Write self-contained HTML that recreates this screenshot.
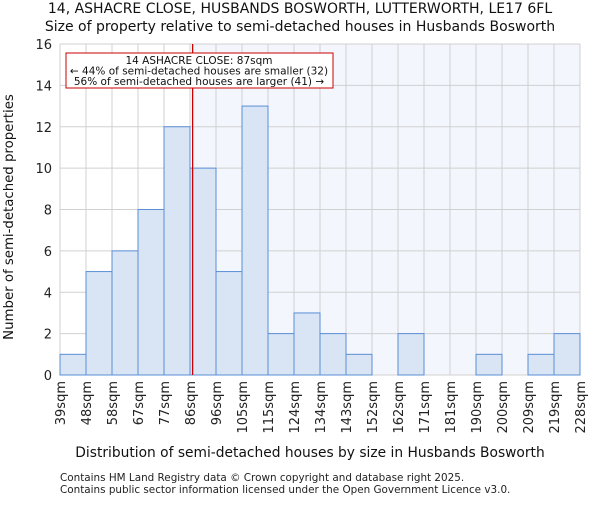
<!DOCTYPE html>
<html><head><meta charset="utf-8"><style>body{margin:0;background:#fff}svg{font-family:"DejaVu Sans","Liberation Sans",sans-serif}</style></head>
<body>
<svg id="c" width="600" height="500" xmlns="http://www.w3.org/2000/svg"></svg>
<script>
const categories=["39sqm","48sqm","58sqm","67sqm","77sqm","86sqm","96sqm","105sqm","115sqm","124sqm","134sqm","143sqm","152sqm","162sqm","171sqm","181sqm","190sqm","200sqm","209sqm","219sqm","228sqm"];
const counts=[1,5,6,8,12,10,5,13,2,3,2,1,0,2,0,0,1,0,1,2];
const yTicks=[0,2,4,6,8,10,12,14,16];
const markerIndex=5.1;
const NS="http://www.w3.org/2000/svg";
const svg=document.getElementById('c');
const L=60,R=580,T=44,B=375,yMax=16;
const nb=counts.length,bw=(R-L)/nb;
const x=i=>L+i*bw, y=v=>B-(B-T)*v/yMax;
function el(t,a,txt){const e=document.createElementNS(NS,t);for(const k in a)e.setAttribute(k,a[k]);if(txt!==undefined)e.textContent=txt;svg.appendChild(e);return e;}
let e;
e=el('rect',{x:L,y:T,width:R-L,height:B-T,fill:'#fff'});


const mx=x(markerIndex);
e=el('rect',{x:mx,y:T,width:R-mx,height:B-T,fill:'#f3f6fd'});


for(let i=0;i<=nb;i++){e=el('line',{x1:x(i),x2:x(i),y1:T,y2:B,stroke:'#d0d0d0','stroke-width':1});

}
yTicks.forEach(t=>{e=el('line',{x1:L,x2:R,y1:y(t),y2:y(t),stroke:'#d0d0d0','stroke-width':1});


e=el('text',{x:L-8,y:y(t)+5,'text-anchor':'end','font-size':13,fill:'#222'},t);

});
counts.forEach((v,i)=>{if(v<=0)return;e=el('rect',{x:x(i),y:y(v),width:bw,height:B-y(v),fill:'#d9e4f5',stroke:'#5b8fd6','stroke-width':1});

});
categories.forEach((c,i)=>{e=el('text',{transform:`translate(${x(i)+5},381) rotate(-90)`,'text-anchor':'end','font-size':13,fill:'#222'},c);

});
e=el('line',{x1:mx,x2:mx,y1:T,y2:B,stroke:'#cc0000','stroke-width':1.3});


e=el('rect',{x:66,y:53,width:267,height:35,fill:'#fff',stroke:'#cc0000','stroke-width':1});


[["14 ASHACRE CLOSE: 87sqm",64],["← 44% of semi-detached houses are smaller (32)",74.5],["56% of semi-detached houses are larger (41) →",85]].forEach(([t,yy])=>{e=el('text',{x:199,y:yy,'text-anchor':'middle','font-size':10.5,fill:'#111'},t);

});
e=el('text',{x:300,y:13,'text-anchor':'middle','font-size':14,fill:'#111'},"14, ASHACRE CLOSE, HUSBANDS BOSWORTH, LUTTERWORTH, LE17 6FL");


e=el('text',{x:300,y:31,'text-anchor':'middle','font-size':14,fill:'#111'},"Size of property relative to semi-detached houses in Husbands Bosworth");


e=el('text',{x:310,y:457,'text-anchor':'middle','font-size':13.8,fill:'#111'},"Distribution of semi-detached houses by size in Husbands Bosworth");


e=el('text',{transform:'translate(13,217) rotate(-90)','text-anchor':'middle','font-size':13.3,fill:'#111'},"Number of semi-detached properties");


e=el('text',{x:60,y:481,'font-size':10.4,fill:'#222'},"Contains HM Land Registry data © Crown copyright and database right 2025.");


e=el('text',{x:60,y:493,'font-size':10.4,fill:'#222'},"Contains public sector information licensed under the Open Government Licence v3.0.");


</script>
</body></html>
